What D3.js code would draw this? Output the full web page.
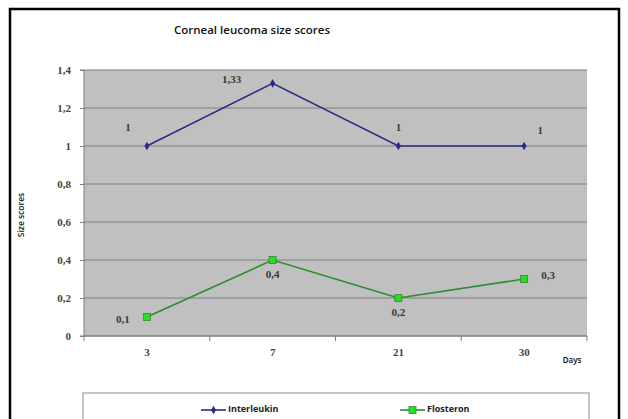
<!DOCTYPE html>
<html>
<head>
<meta charset="utf-8">
<script src="https://cdn.jsdelivr.net/npm/d3@7"></script>
<style>
  html, body { margin: 0; padding: 0; background: #fff; }
  svg { display: block; }
</style>
</head>
<body>
<svg id="chart" width="628" height="419"></svg>
<script>
// Chart data
const days = ["3", "7", "21", "30"];
const interleukin = [1, 1.33, 1, 1];
const flosteron = [0.1, 0.4, 0.2, 0.3];
const interleukinLabels = ["1", "1,33", "1", "1"];
const flosteronLabels = ["0,1", "0,4", "0,2", "0,3"];
const yTicks = [0, 0.2, 0.4, 0.6, 0.8, 1, 1.2, 1.4];
const seriesNames = ["Interleukin", "Flosteron"];

const svg = d3.select("#chart");
const plot = { left: 84, right: 587, top: 70, bottom: 336 };

// Outer frame
svg.append("rect").attr("x", 10).attr("y", 9).attr("width", 609).attr("height", 420)
  .attr("fill", "#fff").attr("stroke", "#000").attr("stroke-width", 2.5);

const x = d3.scaleBand().domain(days).range([plot.left, plot.right]);
const y = d3.scaleLinear().domain([0, 1.4]).range([plot.bottom, plot.top]);
const cx = d => x(d) + x.bandwidth() / 2;

// Plot background
svg.append("rect").attr("x", plot.left).attr("y", plot.top)
  .attr("width", plot.right - plot.left).attr("height", plot.bottom - plot.top)
  .attr("fill", "#c0c0c0");

// Horizontal gridlines
svg.append("g").selectAll("line").data(yTicks.filter(t => t > 0)).join("line")
  .attr("x1", plot.left).attr("x2", plot.right)
  .attr("y1", d => y(d)).attr("y2", d => y(d))
  .attr("stroke", "#7f7f7f").attr("stroke-width", 1.2);

const tickFont = "'Liberation Serif', serif";

// Y axis
const yAxis = svg.append("g").attr("transform", `translate(${plot.left},0)`)
  .call(d3.axisLeft(y).tickValues(yTicks).tickSize(4).tickPadding(9)
    .tickFormat(d => d3.format(".1~f")(d).replace(".", ",")));
yAxis.select(".domain").attr("stroke", "#7f7f7f").attr("d", `M-4,${plot.top}H0V${plot.bottom}H-4`);
yAxis.selectAll(".tick line").attr("stroke", "#7f7f7f");
yAxis.selectAll("text").attr("font-family", tickFont).attr("font-size", 11)
  .attr("font-weight", "bold").attr("fill", "#444");

// X axis with ticks on band boundaries
const xAxis = svg.append("g").attr("transform", `translate(0,${plot.bottom})`);
xAxis.append("line").attr("x1", plot.left).attr("x2", plot.right)
  .attr("y1", 0).attr("y2", 0).attr("stroke", "#7f7f7f").attr("stroke-width", 1.5);
const bounds = days.map(d => x(d)).concat([plot.right]);
xAxis.selectAll("line.tk").data(bounds).join("line").attr("class", "tk")
  .attr("x1", d => d).attr("x2", d => d).attr("y1", 0).attr("y2", 5)
  .attr("stroke", "#7f7f7f");
xAxis.selectAll("text").data(days).join("text")
  .attr("x", d => cx(d)).attr("y", 20).attr("text-anchor", "middle")
  .attr("font-family", tickFont).attr("font-size", 11).attr("font-weight", "bold")
  .attr("fill", "#444").text(d => d);

// Titles
const sansFont = "'Open Sans', sans-serif";
svg.append("text").attr("x", 252).attr("y", 34).attr("text-anchor", "middle")
  .attr("font-family", sansFont).attr("font-size", 11.5).attr("font-weight", 600)
  .attr("fill", "#111").text("Corneal leucoma size scores");
svg.append("text").attr("transform", "translate(24,215) rotate(-90)")
  .attr("text-anchor", "middle").attr("font-family", sansFont).attr("font-size", 8.5)
  .attr("font-weight", 600).attr("fill", "#111").text("Size scores");
svg.append("text").attr("x", 572).attr("y", 363).attr("text-anchor", "middle")
  .attr("font-family", sansFont).attr("font-size", 8).attr("font-weight", 600)
  .attr("fill", "#111").text("Days");

// Series lines
const line = d3.line().x((d, i) => cx(days[i])).y(d => y(d));
const blue = "#2a2a8a", green = "#2e8b2e", greenFill = "#22e022";

svg.append("path").datum(interleukin).attr("d", line)
  .attr("fill", "none").attr("stroke", blue).attr("stroke-width", 1.6);
svg.append("path").datum(flosteron).attr("d", line)
  .attr("fill", "none").attr("stroke", green).attr("stroke-width", 1.6);

// Markers
svg.append("g").selectAll("path").data(interleukin).join("path")
  .attr("transform", (d, i) => `translate(${cx(days[i])},${y(d)})`)
  .attr("d", d3.symbol(d3.symbolDiamond, 22)).attr("fill", blue);
svg.append("g").selectAll("rect").data(flosteron).join("rect")
  .attr("x", (d, i) => cx(days[i]) - 3.5).attr("y", d => y(d) - 3.5)
  .attr("width", 7).attr("height", 7).attr("fill", greenFill)
  .attr("stroke", green).attr("stroke-width", 0.8);

// Value labels
const ilOffsets = [[-19, -18], [-41, -3], [0, -18], [16, -15]];
const flOffsets = [[-24, 3], [0, 15], [0, 15], [24, -3]];
const labelStyle = sel => sel.attr("font-family", tickFont).attr("font-size", 11)
  .attr("font-weight", "bold").attr("fill", "#3a3a3a").attr("text-anchor", "middle")
  .attr("dominant-baseline", "middle");
svg.append("g").selectAll("text").data(interleukin).join("text")
  .attr("x", (d, i) => cx(days[i]) + ilOffsets[i][0])
  .attr("y", (d, i) => y(d) + ilOffsets[i][1])
  .text((d, i) => interleukinLabels[i]).call(labelStyle);
svg.append("g").selectAll("text").data(flosteron).join("text")
  .attr("x", (d, i) => cx(days[i]) + flOffsets[i][0])
  .attr("y", (d, i) => y(d) + flOffsets[i][1])
  .text((d, i) => flosteronLabels[i]).call(labelStyle);

// Legend
svg.append("rect").attr("x", 83).attr("y", 393).attr("width", 506).attr("height", 40)
  .attr("fill", "#fff").attr("stroke", "#a0a0a0").attr("stroke-width", 1.2);
const legendX = [201, 400];
const lg = svg.append("g").selectAll("g").data(seriesNames).join("g")
  .attr("transform", (d, i) => `translate(${legendX[i]},410)`);
lg.append("line").attr("x1", 0).attr("x2", 25).attr("y1", 0).attr("y2", 0)
  .attr("stroke", (d, i) => i === 0 ? blue : green).attr("stroke-width", 1.6);
lg.each(function(d, i) {
  const g = d3.select(this);
  if (i === 0) {
    g.append("path").attr("transform", "translate(12.5,0)")
      .attr("d", d3.symbol(d3.symbolDiamond, 22)).attr("fill", blue);
  } else {
    g.append("rect").attr("x", 9).attr("y", -3.5).attr("width", 7).attr("height", 7)
      .attr("fill", greenFill).attr("stroke", green).attr("stroke-width", 0.8);
  }
});
lg.append("text").attr("x", 27).attr("y", 0).attr("dominant-baseline", "middle")
  .attr("font-family", sansFont).attr("font-size", 9).attr("font-weight", 700)
  .attr("fill", "#222").text(d => d);
</script>
</body>
</html>
